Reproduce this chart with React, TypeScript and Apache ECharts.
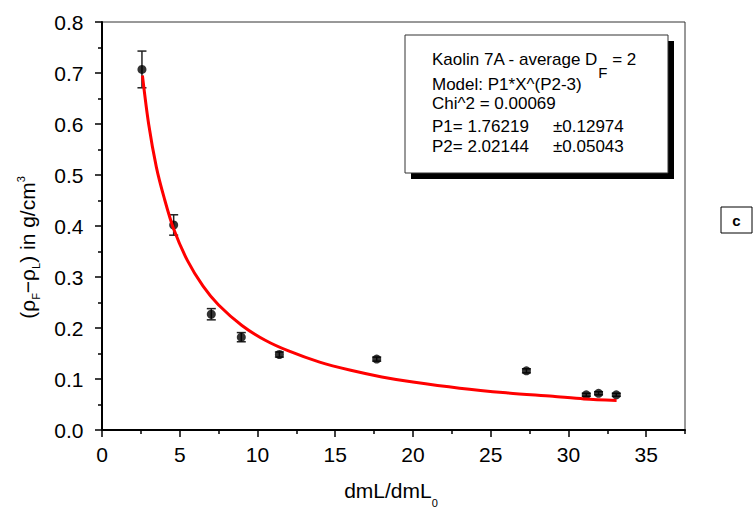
import React, { useEffect, useRef } from 'react';
import * as echarts from 'echarts';

// ---- data ----
const xData = [2.57, 4.61, 7.03, 8.96, 11.41, 17.67, 27.3, 31.15, 31.94, 33.08];
const yData = [0.707, 0.402, 0.227, 0.182, 0.148, 0.139, 0.116, 0.069, 0.072, 0.069];
const yErr = [0.036, 0.02, 0.011, 0.009, 0.005, 0.004, 0.004, 0.003, 0.003, 0.003];

const fitX = [2.6, 3, 3.5, 4, 4.6, 5.5, 6.5, 7.5, 9, 10.5, 12, 14, 16, 18, 20, 23, 26, 29, 31, 33.1];
const fitY = [0.695, 0.6, 0.515, 0.455, 0.395, 0.332, 0.282, 0.245, 0.205, 0.176, 0.155, 0.133, 0.117, 0.104, 0.094, 0.082, 0.073, 0.066, 0.061, 0.058];

const xMajorTicks = [0, 5, 10, 15, 20, 25, 30, 35];
const xMinorTicks = [2.5, 7.5, 12.5, 17.5, 22.5, 27.5, 32.5, 37.5];

const legendLines = [
  'Model: P1*X^(P2-3)',
  'Chi^2 = 0.00069',
];
const paramNames = ['P1= 1.76219', 'P2= 2.02144'];
const paramErrs = ['\u00B10.12974', '\u00B10.05043'];

const FONT = '"Liberation Sans", Arial, Helvetica, sans-serif';

export default function App() {
  const ref = useRef<HTMLDivElement>(null);

  useEffect(() => {
    if (!ref.current) return;
    const chart = echarts.init(ref.current, undefined, { renderer: 'svg' });

    const ctx = document.createElement('canvas').getContext('2d')!;
    const measure = (t: string, size: number, weight = 'normal') => {
      ctx.font = `${weight} ${size}px ${FONT}`;
      return ctx.measureText(t).width;
    };

    // pieces: [text, fontSize, centerOffset]
    const chain = (pieces: [string, number, number][], x0: number, y0: number, z = 0) => {
      let cx = x0;
      const out: any[] = [];
      for (const [t, s, dy] of pieces) {
        out.push({
          type: 'text',
          x: cx,
          y: y0 + dy,
          z,
          style: { text: t, font: `${s}px ${FONT}`, fill: '#000', align: 'left', verticalAlign: 'middle' },
        });
        cx += measure(t, s);
      }
      return { els: out, width: cx - x0 };
    };
    const total = (pieces: [string, number, number][]) => pieces.reduce((a, p) => a + measure(p[0], p[1]), 0);

    // x axis title
    const xtPieces: [string, number, number][] = [
      ['dmL/dmL', 21, 0],
      ['0', 11, 12.5],
    ];
    const xtW = total(xtPieces);
    const xt = chain(xtPieces, 391 - xtW / 2, 490.6);

    // y axis title (rotated)
    const ytPieces: [string, number, number][] = [
      ['(\u03C1', 21, -7.3],
      ['F', 11, 1],
      ['\u2212\u03C1', 21, -7.3],
      ['L', 11, 1],
      [') in g/cm', 21, -7.3],
      ['3', 11, -13.4],
    ];
    const ytW = total(ytPieces);
    const yt = chain(ytPieces, 0, 0);

    // legend line 1
    const l1Pieces: [string, number, number][] = [
      ['Kaolin 7A - average D', 17, 0],
      ['F', 15, 13],
      [' = 2', 17, 0],
    ];
    const l1 = chain(l1Pieces, 432, 59, 12);

    const legendTexts: any[] = [];
    legendLines.forEach((t, i) => {
      legendTexts.push({
        type: 'text', x: 432, y: [84.7, 103.5][i], z: 12,
        style: { text: t, font: `17px ${FONT}`, fill: '#000', verticalAlign: 'middle' },
      });
    });
    paramNames.forEach((t, i) => {
      const y = [126, 146.3][i];
      legendTexts.push({
        type: 'text', x: 432, y, z: 12,
        style: { text: t, font: `17px ${FONT}`, fill: '#000', verticalAlign: 'middle' },
      });
      legendTexts.push({
        type: 'text', x: 553, y, z: 12,
        style: { text: paramErrs[i], font: `17px ${FONT}`, fill: '#000', verticalAlign: 'middle' },
      });
    });

    const errData = xData.map((x, i) => [x, yData[i], yErr[i]]);
    const ptData = xData.map((x, i) => [x, yData[i]]);
    const fitData = fitX.map((x, i) => [x, fitY[i]]);

    const option: any = {
      animation: false,
      backgroundColor: '#fff',
      grid: {
        left: 102, right: 69, top: 22, bottom: 82,
        show: true, borderColor: '#333', borderWidth: 1, backgroundColor: 'transparent',
        outerBoundsMode: 'none',
      },
      xAxis: [
        {
          type: 'value', min: 0, max: 37.5, position: 'bottom',
          axisLine: { show: true, onZero: false, lineStyle: { color: '#000', width: 2 } },
          axisTick: { show: true, inside: false, length: 7, customValues: xMajorTicks, lineStyle: { color: '#000', width: 1.5 } },
          axisLabel: { show: true, customValues: xMajorTicks, margin: 14, fontSize: 21, color: '#000', fontFamily: FONT },
          splitLine: { show: false },
        },
        {
          type: 'value', min: 0, max: 37.5, position: 'bottom',
          axisLine: { show: false },
          axisTick: { show: true, inside: false, length: 4, customValues: xMinorTicks, lineStyle: { color: '#000', width: 1.5 } },
          axisLabel: { show: false },
          splitLine: { show: false },
        },
      ],
      yAxis: {
        type: 'value', min: 0, max: 0.8, interval: 0.1,
        axisLine: { show: true, onZero: false, lineStyle: { color: '#000', width: 2 } },
        axisTick: { show: true, inside: false, length: 7, lineStyle: { color: '#000', width: 1.5 } },
        minorTick: { show: true, splitNumber: 2, length: 4, lineStyle: { color: '#000', width: 1.5 } },
        axisLabel: { margin: 18.5, fontSize: 21, color: '#000', fontFamily: FONT, formatter: (v: number) => v.toFixed(1) },
        splitLine: { show: false },
        minorSplitLine: { show: false },
      },
      series: [
        {
          type: 'custom',
          xAxisIndex: 0,
          data: errData,
          encode: { x: 0, y: 1 },
          z: 2,
          renderItem: (params: any, api: any) => {
            const x = api.value(0), y = api.value(1), e = api.value(2);
            const top = api.coord([x, y + e]);
            const bot = api.coord([x, y - e]);
            const hw = 4.5;
            const st = { stroke: '#222', lineWidth: 1.5 };
            return {
              type: 'group',
              children: [
                { type: 'line', shape: { x1: top[0], y1: top[1], x2: bot[0], y2: bot[1] }, style: st },
                { type: 'line', shape: { x1: top[0] - hw, y1: top[1], x2: top[0] + hw, y2: top[1] }, style: st },
                { type: 'line', shape: { x1: bot[0] - hw, y1: bot[1], x2: bot[0] + hw, y2: bot[1] }, style: st },
              ],
            };
          },
        },
        {
          type: 'scatter',
          xAxisIndex: 0,
          data: ptData,
          symbol: 'circle',
          symbolSize: 9,
          itemStyle: { color: '#000' },
          z: 3,
        },
        {
          type: 'line',
          xAxisIndex: 0,
          data: fitData,
          smooth: 0.3,
          showSymbol: false,
          symbol: 'none',
          lineStyle: { color: '#ff0000', width: 3 },
          z: 4,
        },
      ],
      graphic: [
        // legend box shadow + box
        { type: 'rect', shape: { x: 411, y: 41, width: 263, height: 138 }, style: { fill: '#000' }, z: 10 },
        { type: 'rect', shape: { x: 405, y: 35, width: 263, height: 138 }, style: { fill: '#fff', stroke: '#333', lineWidth: 1 }, z: 11 },
        ...l1.els,
        ...legendTexts,
        // x axis title
        ...xt.els,
        // y axis title
        { type: 'group', x: 34.5, y: 247.5 + ytW / 2, rotation: Math.PI / 2, children: yt.els },
        // panel label
        { type: 'rect', shape: { x: 721, y: 207, width: 31, height: 26 }, style: { fill: '#fff', stroke: '#000', lineWidth: 1 } },
        { type: 'text', x: 736.5, y: 220, style: { text: 'c', font: `bold 15px ${FONT}`, fill: '#000', align: 'center', verticalAlign: 'middle' } },
      ],
    };

    chart.setOption(option);
    return () => chart.dispose();
  }, []);

  return <div ref={ref} style={{ position: 'absolute', left: 0, top: 0, width: 754, height: 512 }} />;
}
